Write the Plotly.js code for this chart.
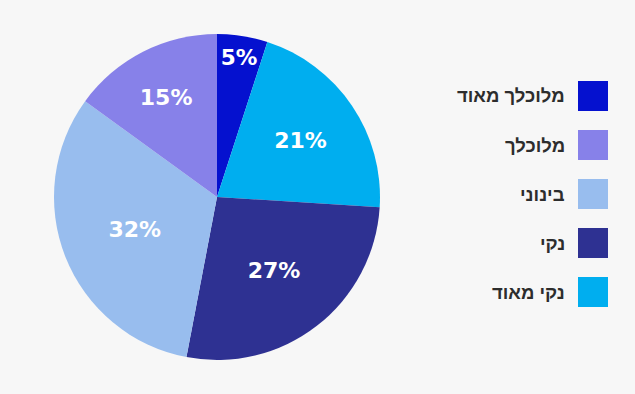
<!DOCTYPE html>
<html>
<head>
<meta charset="utf-8">
<script src="https://cdn.plot.ly/plotly-3.0.1.min.js"></script>
<style>html,body{margin:0;padding:0;background:#f7f7f7;}#chart{width:635px;height:394px;}</style>
</head>
<body>
<div id="chart"></div>
<script>
// Slices in clockwise order from 12 o'clock
const labels = ["מלוכלך מאוד", "נקי מאוד", "נקי", "בינוני", "מלוכלך"];
const values = [5, 21, 27, 32, 15];
const colors = ["#0511cf", "#00aeef", "#2e3192", "#98bdee", "#8781e9"];
// Legend order (top to bottom)
const legendLabels = ["מלוכלך מאוד", "מלוכלך", "בינוני", "נקי", "נקי מאוד"];

const W = 635, H = 394;
const cx = 217, cy = 197, R = 163;

const trace = {
  type: "pie",
  labels: labels,
  values: values,
  sort: false,
  direction: "clockwise",
  rotation: 0,
  marker: {colors: colors, line: {width: 0}},
  texttemplate: "%{value}%",
  textposition: "inside",
  insidetextorientation: "horizontal",
  textfont: {family: "DejaVu Sans, Liberation Sans, sans-serif", size: 22, color: "#ffffff", weight: 900},
  hoverinfo: "none",
  showlegend: false,
  domain: {x: [(cx - R) / W, (cx + R) / W], y: [(H - cy - R) / H, (H - cy + R) / H]}
};

const shapes = [], annotations = [];
legendLabels.forEach((lab, i) => {
  const col = colors[labels.indexOf(lab)];
  const yc = 96 + i * 49;
  shapes.push({type: "rect", xref: "paper", yref: "paper",
    x0: 578 / W, x1: 608 / W, y0: (H - yc - 15) / H, y1: (H - yc + 15) / H,
    fillcolor: col, line: {width: 0}});
  annotations.push({xref: "paper", yref: "paper", x: 567 / W, y: (H - yc) / H,
    xanchor: "right", yanchor: "middle", showarrow: false, text: lab,
    font: {family: "Liberation Sans, DejaVu Sans, sans-serif", size: 18.5, color: "#2d2d2d", weight: 700}});
});

const layout = {
  width: W, height: H,
  margin: {l: 0, r: 0, t: 0, b: 0},
  paper_bgcolor: "#f7f7f7",
  plot_bgcolor: "#f7f7f7",
  shapes: shapes,
  annotations: annotations
};

Plotly.newPlot("chart", [trace], layout, {staticPlot: true, displayModeBar: false});
</script>
</body>
</html>
